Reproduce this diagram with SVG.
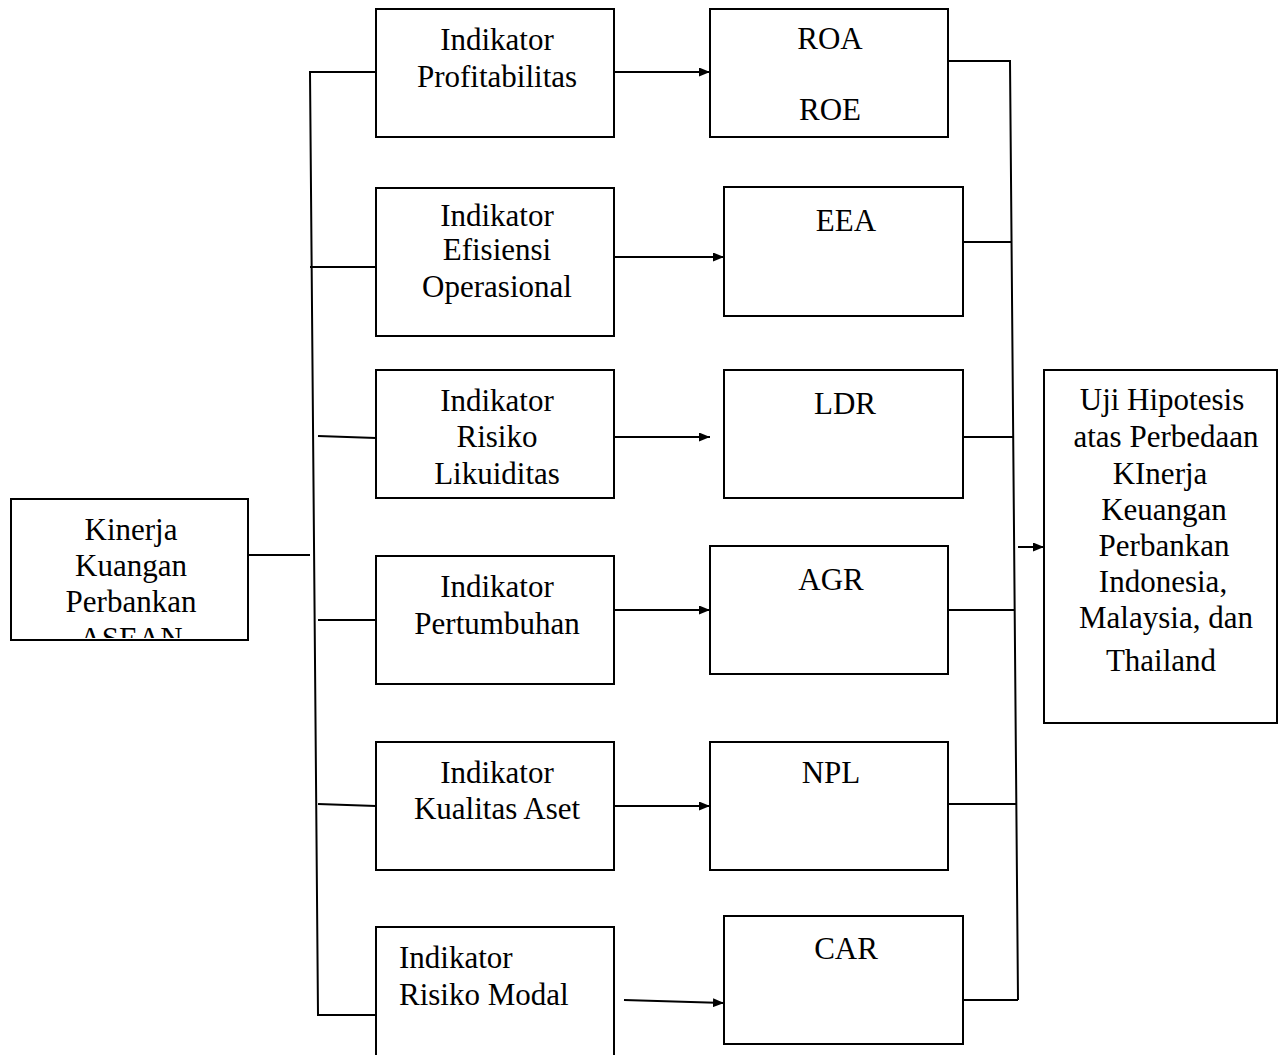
<svg xmlns="http://www.w3.org/2000/svg" width="1278" height="1055" viewBox="0 0 1278 1055">
<style>
.box{fill:#fff;stroke:#000;stroke-width:2}
.ln{fill:none;stroke:#000;stroke-width:2}
text{font-size:31px;fill:#000;text-anchor:middle}
.l{text-anchor:start}
</style>
<defs>
<marker id="ah" markerWidth="11" markerHeight="9" refX="11" refY="4.5" orient="auto" markerUnits="userSpaceOnUse">
<path d="M0,0 L11,4.5 L0,9 Z" fill="#000"/>
</marker>
<clipPath id="clipL"><rect x="12" y="500" width="235" height="138"/></clipPath>
</defs>
<rect width="1278" height="1055" fill="#fff"/>
<g id="connectors">
<path class="ln" d="M248,555 L310,555"/>
<path class="ln" d="M376,72 L310,72 L318,1015 L376,1015"/>
<path class="ln" d="M310,267 L376,267"/>
<path class="ln" d="M318,436 L376,438"/>
<path class="ln" d="M318,620 L376,620"/>
<path class="ln" d="M318,804 L376,806"/>
<path class="ln" d="M614,72 L710,72" marker-end="url(#ah)"/>
<path class="ln" d="M614,257 L724,257" marker-end="url(#ah)"/>
<path class="ln" d="M614,437 L710,437" marker-end="url(#ah)"/>
<path class="ln" d="M614,610 L710,610" marker-end="url(#ah)"/>
<path class="ln" d="M614,806 L710,806" marker-end="url(#ah)"/>
<path class="ln" d="M624,1000 L724,1003" marker-end="url(#ah)"/>
<path class="ln" d="M948,61 L1010,61 L1018,1000"/>
<path class="ln" d="M963,242 L1011,242"/>
<path class="ln" d="M963,437 L1013,437"/>
<path class="ln" d="M948,610 L1014,610"/>
<path class="ln" d="M948,804 L1016,804"/>
<path class="ln" d="M963,1000 L1018,1000"/>
<path class="ln" d="M1018,547 L1044,547" marker-end="url(#ah)"/>
</g>
<g font-family="Liberation Serif, Times New Roman, DejaVu Serif, serif">
<g id="kinerja">
<rect class="box" x="11" y="499" width="237" height="141"/>
<g clip-path="url(#clipL)">
<text x="131" y="540">Kinerja</text>
<text x="131" y="576">Kuangan</text>
<text x="131" y="612">Perbankan</text>
<text x="131" y="649">ASEAN</text>
</g>
</g>
<g id="ind-profit">
<rect class="box" x="376" y="9" width="238" height="128"/>
<text x="497" y="50">Indikator</text>
<text x="497" y="87">Profitabilitas</text>
</g>
<g id="ind-efisiensi">
<rect class="box" x="376" y="188" width="238" height="148"/>
<text x="497" y="226">Indikator</text>
<text x="497" y="260">Efisiensi</text>
<text x="497" y="297">Operasional</text>
</g>
<g id="ind-likuid">
<rect class="box" x="376" y="370" width="238" height="128"/>
<text x="497" y="411">Indikator</text>
<text x="497" y="447">Risiko</text>
<text x="497" y="484">Likuiditas</text>
</g>
<g id="ind-tumbuh">
<rect class="box" x="376" y="556" width="238" height="128"/>
<text x="497" y="597">Indikator</text>
<text x="497" y="634">Pertumbuhan</text>
</g>
<g id="ind-aset">
<rect class="box" x="376" y="742" width="238" height="128"/>
<text x="497" y="783">Indikator</text>
<text x="497" y="819">Kualitas Aset</text>
</g>
<g id="ind-modal">
<rect class="box" x="376" y="927" width="238" height="130"/>
<text class="l" x="399" y="968">Indikator</text>
<text class="l" x="399" y="1005">Risiko Modal</text>
</g>
<g id="roa">
<rect class="box" x="710" y="9" width="238" height="128"/>
<text x="830" y="49">ROA</text>
<text x="830" y="120">ROE</text>
</g>
<g id="eea">
<rect class="box" x="724" y="187" width="239" height="129"/>
<text x="846" y="231">EEA</text>
</g>
<g id="ldr">
<rect class="box" x="724" y="370" width="239" height="128"/>
<text x="845" y="414">LDR</text>
</g>
<g id="agr">
<rect class="box" x="710" y="546" width="238" height="128"/>
<text x="831" y="590">AGR</text>
</g>
<g id="npl">
<rect class="box" x="710" y="742" width="238" height="128"/>
<text x="831" y="783">NPL</text>
</g>
<g id="car">
<rect class="box" x="724" y="916" width="239" height="128"/>
<text x="846" y="959">CAR</text>
</g>
<g id="uji">
<rect class="box" x="1044" y="370" width="233" height="353"/>
<text x="1162" y="410">Uji Hipotesis</text>
<text x="1166" y="447">atas Perbedaan</text>
<text x="1160" y="484">KInerja</text>
<text x="1164" y="520">Keuangan</text>
<text x="1164" y="556">Perbankan</text>
<text x="1163" y="592">Indonesia,</text>
<text x="1166" y="628">Malaysia, dan</text>
<text x="1161" y="671">Thailand</text>
</g>
</g>
</svg>
